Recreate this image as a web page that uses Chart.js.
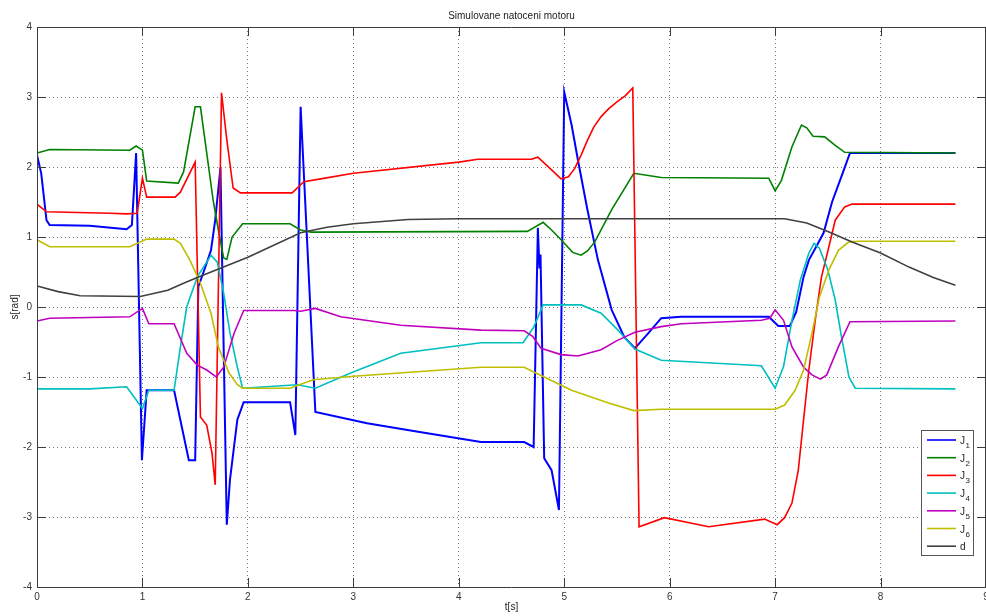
<!DOCTYPE html>
<html>
<head>
<meta charset="utf-8">
<title>Simulovane natoceni motoru</title>
<script src="https://cdn.jsdelivr.net/npm/chart.js@4"></script>
<style>
  html, body { margin: 0; padding: 0; background: #fff; }
  canvas { display: block; }
</style>
</head>
<body>
<canvas id="chart" width="986" height="616"></canvas>
<script>
// --- simulated joint positions, time [s] / value [rad] pairs per joint ---
const J1_T = [0, 0.04, 0.09, 0.12, 0.5, 0.85, 0.9, 0.94, 0.995, 1.04, 1.3, 1.44, 1.5, 1.53, 1.58, 1.65, 1.69, 1.74, 1.8, 1.83, 1.9, 1.96, 2.4, 2.45, 2.5, 2.64, 3.13, 3.6, 4.21, 4.62, 4.71, 4.75, 4.765, 4.775, 4.81, 4.88, 4.95, 5.0, 5.07, 5.13, 5.22, 5.32, 5.45, 5.57, 5.67, 5.8, 5.92, 6.11, 6.94, 7.03, 7.14, 7.2, 7.27, 7.32, 7.4, 7.46, 7.54, 7.64, 7.71, 8.71];
const J1_V = [2.17, 1.91, 1.24, 1.17, 1.16, 1.11, 1.17, 2.2, -2.19, -1.19, -1.19, -2.19, -2.19, 0.29, 0.5, 0.81, 1.24, 1.99, -3.11, -2.47, -1.61, -1.36, -1.36, -1.83, 2.86, -1.5, -1.66, -1.78, -1.93, -1.93, -2.0, 1.13, 0.55, 0.75, -2.16, -2.33, -2.9, 3.07, 2.6, 2.1, 1.39, 0.67, -0.04, -0.43, -0.59, -0.37, -0.16, -0.14, -0.14, -0.27, -0.27, -0.07, 0.43, 0.67, 0.89, 1.06, 1.5, 1.91, 2.2, 2.2];

const J2_T = [0, 0.12, 0.88, 0.94, 1.0, 1.04, 1.34, 1.39, 1.5, 1.55, 1.67, 1.72, 1.77, 1.8, 1.85, 1.95, 2.4, 2.5, 2.6, 4.65, 4.8, 4.88, 4.97, 5.08, 5.16, 5.22, 5.29, 5.45, 5.66, 5.92, 6.94, 7.0, 7.06, 7.16, 7.25, 7.3, 7.36, 7.47, 7.57, 7.66, 8.71];
const J2_V = [2.2, 2.25, 2.24, 2.3, 2.24, 1.8, 1.77, 1.93, 2.86, 2.86, 1.53, 1.1, 0.7, 0.68, 1.0, 1.19, 1.19, 1.1, 1.07, 1.08, 1.21, 1.1, 0.96, 0.78, 0.74, 0.8, 0.93, 1.39, 1.91, 1.85, 1.84, 1.66, 1.81, 2.29, 2.6, 2.56, 2.44, 2.43, 2.31, 2.21, 2.2];

const J3_T = [0, 0.09, 0.69, 0.85, 0.95, 1.0, 1.04, 1.31, 1.36, 1.5, 1.55, 1.61, 1.66, 1.69, 1.75, 1.8, 1.86, 1.93, 2.42, 2.53, 2.69, 3.0, 4.0, 4.18, 4.69, 4.75, 4.88, 4.97, 5.04, 5.1, 5.16, 5.22, 5.28, 5.35, 5.42, 5.5, 5.58, 5.65, 5.71, 5.95, 6.37, 6.9, 7.02, 7.09, 7.16, 7.22, 7.27, 7.32, 7.38, 7.44, 7.51, 7.57, 7.66, 7.73, 8.71];
const J3_V = [1.47, 1.36, 1.34, 1.33, 1.34, 1.84, 1.57, 1.57, 1.64, 2.07, -1.57, -1.69, -2.09, -2.54, 3.06, 2.39, 1.7, 1.63, 1.63, 1.79, 1.83, 1.91, 2.07, 2.11, 2.11, 2.14, 1.96, 1.83, 1.86, 1.98, 2.17, 2.38, 2.57, 2.72, 2.83, 2.93, 3.02, 3.13, -3.14, -3.01, -3.14, -3.03, -3.11, -3.01, -2.8, -2.33, -1.61, -0.9, -0.19, 0.43, 0.86, 1.24, 1.43, 1.47, 1.47];

const J4_T = [0, 0.5, 0.85, 1.0, 1.06, 1.3, 1.36, 1.42, 1.52, 1.65, 1.71, 1.77, 1.83, 1.9, 1.95, 2.47, 2.64, 2.98, 3.45, 4.21, 4.61, 4.71, 4.8, 5.16, 5.35, 5.51, 5.67, 5.92, 6.87, 7.0, 7.08, 7.16, 7.24, 7.32, 7.37, 7.42, 7.5, 7.57, 7.63, 7.7, 7.76, 8.71];
const J4_V = [-1.17, -1.17, -1.14, -1.45, -1.19, -1.19, -0.57, 0, 0.43, 0.74, 0.64, 0.2, -0.37, -0.86, -1.16, -1.11, -1.16, -0.94, -0.66, -0.51, -0.51, -0.29, 0.03, 0.03, -0.09, -0.33, -0.6, -0.76, -0.84, -1.16, -0.85, -0.19, 0.39, 0.77, 0.91, 0.84, 0.53, 0.1, -0.43, -1.0, -1.16, -1.17];

const J5_T = [0, 0.12, 0.88, 1.0, 1.06, 1.3, 1.42, 1.52, 1.61, 1.7, 1.77, 1.87, 1.96, 2.44, 2.5, 2.64, 2.88, 3.45, 4.21, 4.62, 4.7, 4.78, 4.97, 5.13, 5.35, 5.5, 5.67, 5.92, 6.11, 6.87, 6.95, 7.0, 7.08, 7.16, 7.27, 7.35, 7.43, 7.49, 7.6, 7.71, 8.71];
const J5_V = [-0.2, -0.16, -0.14, -0.02, -0.24, -0.24, -0.66, -0.83, -0.9, -1.0, -0.86, -0.37, -0.05, -0.05, -0.06, -0.02, -0.14, -0.26, -0.33, -0.34, -0.42, -0.59, -0.68, -0.7, -0.61, -0.48, -0.36, -0.28, -0.24, -0.19, -0.16, -0.04, -0.19, -0.57, -0.86, -0.97, -1.03, -0.97, -0.57, -0.21, -0.2];

const J6_T = [0, 0.12, 0.88, 1.04, 1.3, 1.36, 1.45, 1.55, 1.65, 1.72, 1.82, 1.9, 1.95, 2.4, 2.62, 3.0, 4.21, 4.62, 4.81, 5.07, 5.42, 5.66, 5.92, 7.0, 7.09, 7.19, 7.27, 7.35, 7.42, 7.51, 7.6, 7.7, 7.8, 8.71];
const J6_V = [0.96, 0.86, 0.86, 0.97, 0.97, 0.91, 0.67, 0.34, -0.09, -0.57, -0.94, -1.11, -1.16, -1.16, -1.04, -0.99, -0.86, -0.86, -1.0, -1.19, -1.37, -1.48, -1.46, -1.46, -1.4, -1.19, -0.9, -0.37, 0.14, 0.53, 0.81, 0.93, 0.94, 0.94];

const D_T = [0, 0.2, 0.41, 0.98, 1.24, 1.39, 1.52, 2.0, 2.5, 2.75, 3.0, 3.52, 4.0, 7.09, 7.3, 7.5, 7.73, 8.0, 8.27, 8.5, 8.71];
const D_V = [0.3, 0.22, 0.16, 0.15, 0.24, 0.34, 0.42, 0.71, 1.06, 1.14, 1.19, 1.25, 1.26, 1.26, 1.2, 1.08, 0.93, 0.77, 0.57, 0.42, 0.31];

const LABELS = ['J1', 'J2', 'J3', 'J4', 'J5', 'J6', 'd'];
const COLORS = ['#0000ff', '#008000', '#ff0000', '#00bfbf', '#bf00bf', '#bfbf00', '#404040'];

const SERIES = [[J1_T, J1_V], [J2_T, J2_V], [J3_T, J3_V], [J4_T, J4_V], [J5_T, J5_V], [J6_T, J6_V], [D_T, D_V]];

const FONT = { family: '"Liberation Sans", Arial, sans-serif', size: 10 };
const AXIS_COLOR = '#3c3c3c';
const GRID_COLOR = '#7a7a7a';

const toPoints = (t, v) => t.map((x, i) => ({ x, y: v[i] }));

// frame round the plot with MATLAB-style inward ticks on all four sides
const axesBox = {
    id: 'axesBox',
    afterDatasetsDraw(chart) {
        const { ctx, chartArea: a, scales } = chart;
        const len = 9;
        ctx.save();
        ctx.strokeStyle = AXIS_COLOR;
        ctx.lineWidth = 1;
        ctx.beginPath();
        ctx.rect(Math.round(a.left) + 0.5, Math.round(a.top) + 0.5,
                 Math.round(a.right - a.left) - 1, Math.round(a.bottom - a.top));
        for (let i = 0; i <= 9; i++) {
            const px = Math.round(scales.x.getPixelForValue(i)) + 0.5;
            ctx.moveTo(px, a.bottom); ctx.lineTo(px, a.bottom - len);
            ctx.moveTo(px, a.top); ctx.lineTo(px, a.top + len);
        }
        for (let v = -4; v <= 4; v++) {
            const py = Math.round(scales.y.getPixelForValue(v)) + 0.5;
            ctx.moveTo(a.left, py); ctx.lineTo(a.left + len, py);
            ctx.moveTo(a.right, py); ctx.lineTo(a.right - len, py);
        }
        ctx.stroke();
        ctx.restore();
    },
};

// legend box in the lower right corner, labels with subscript index
const legendBox = {
    id: 'legendBox',
    afterDraw(chart) {
        const { ctx, chartArea: a } = chart;
        const w = 52, h = 125;
        const x0 = Math.round(a.right - 13 - w), y0 = Math.round(a.bottom - 32 - h);
        ctx.save();
        ctx.fillStyle = '#fff';
        ctx.fillRect(x0, y0, w, h);
        ctx.strokeStyle = '#555';
        ctx.lineWidth = 1;
        ctx.strokeRect(x0 + 0.5, y0 + 0.5, w, h);
        chart.data.datasets.forEach((ds, i) => {
            const y = y0 + 10 + i * 17.7;
            ctx.strokeStyle = ds.borderColor;
            ctx.lineWidth = 1.6;
            ctx.beginPath();
            ctx.moveTo(x0 + 6, y);
            ctx.lineTo(x0 + 35, y);
            ctx.stroke();
            ctx.fillStyle = '#222';
            ctx.textBaseline = 'alphabetic';
            ctx.font = `10px ${FONT.family}`;
            const name = ds.label.charAt(0);
            ctx.fillText(name, x0 + 39, y + 4);
            const sub = ds.label.slice(1);
            if (sub) {
                const nw = ctx.measureText(name).width;
                ctx.font = `8px ${FONT.family}`;
                ctx.fillText(sub, x0 + 39 + nw + 0.5, y + 8);
            }
        });
        ctx.restore();
    },
};

new Chart(document.getElementById('chart'), {
    type: 'line',
    data: {
        datasets: SERIES.map(([t, v], i) => ({
            label: LABELS[i],
            data: toPoints(t, v),
            borderColor: COLORS[i],
            borderWidth: i === 0 ? 2 : 1.6,
            pointRadius: 0,
            tension: 0,
            fill: false,
            order: SERIES.length - i,
        })),
    },
    options: {
        responsive: false,
        animation: false,
        events: [],
        parsing: false,
        plugins: {
            legend: { display: false },
            tooltip: { enabled: false },
        },
        scales: {
            x: {
                type: 'linear',
                min: 0,
                max: 9,
                ticks: { stepSize: 1, padding: 4, color: '#333', font: FONT, maxRotation: 0 },
                grid: { color: GRID_COLOR, drawTicks: false },
                border: { display: false, dash: [1, 3] },
                title: { display: true, text: 't[s]', color: '#222', font: FONT, padding: { top: 0, bottom: 3 } },
                afterFit: s => { s.height = 29; s.paddingLeft = 0; s.paddingRight = 0; },
            },
            top: {
                axis: 'x',
                type: 'linear',
                position: 'top',
                min: 0,
                max: 9,
                display: true,
                ticks: { display: false },
                grid: { display: false, drawTicks: false },
                border: { display: false },
                title: { display: true, text: 'Simulovane natoceni motoru', color: '#222', font: FONT, padding: { top: 10, bottom: 0 } },
                afterFit: s => { s.height = 27; s.paddingLeft = 0; s.paddingRight = 0; },
            },
            y: {
                type: 'linear',
                min: -4,
                max: 4,
                ticks: { stepSize: 1, padding: 5, color: '#333', font: FONT },
                grid: { color: GRID_COLOR, drawTicks: false },
                border: { display: false, dash: [1, 3] },
                title: { display: true, text: 's[rad]', color: '#222', font: FONT, padding: { top: 9, bottom: 0 } },
                afterFit: s => { s.width = 37; s.paddingTop = 0; s.paddingBottom = 0; },
            },
        },
    },
    plugins: [axesBox, legendBox],
});
</script>
</body>
</html>
